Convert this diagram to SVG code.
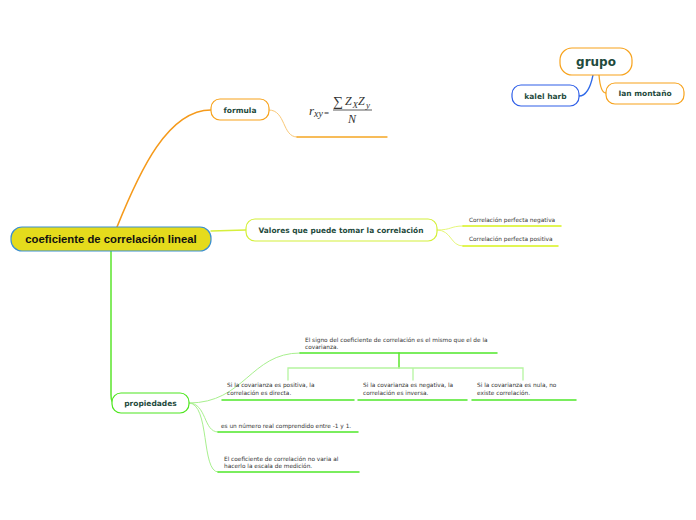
<svg xmlns="http://www.w3.org/2000/svg" width="696" height="520" viewBox="0 0 696 520">
<style>
.nt{font-family:"DejaVu Sans",Verdana,sans-serif;font-weight:bold;fill:#1f4b3d;text-anchor:middle}
.sm{font-family:"DejaVu Sans",Verdana,sans-serif;font-size:5.8px;fill:#333}
.c{fill:none;stroke-linecap:round}
.fx{font-family:"Liberation Serif","Times New Roman",serif;font-style:italic;fill:#333}
</style>
<rect width="696" height="520" fill="#fff"/>
<g id="connectors">
<path class="c" d="M117,227 C140,170 168,110 211,110" stroke="#f59a1b" stroke-width="1.6"/>
<path class="c" d="M269,110 C286,110 282,137 297,137" stroke="#f9c877" stroke-width="1"/>
<path class="c" d="M297,137 L387,137" stroke="#f5a623" stroke-width="1.3"/>
<path class="c" d="M211,231 L246,230" stroke="#d6ef3c" stroke-width="1.3"/>
<path class="c" d="M437,230 C452,230 450,226 463,226" stroke="#e6f77a" stroke-width="1"/>
<path class="c" d="M437,230 C452,230 450,246 463,246" stroke="#e6f77a" stroke-width="1"/>
<path class="c" d="M463,226 L561,226 M463,246 L558,246" stroke="#d7f21c" stroke-width="1.5"/>
<path class="c" d="M111,251 L111,395 C111,401 112,403 115,403" stroke="#5be52c" stroke-width="1.5"/>
<path class="c" d="M189,403 C245,403 250,353 300,353" stroke="#a8f08e" stroke-width="1"/>
<path class="c" d="M189,403 C207,403 203,432 218,432" stroke="#a8f08e" stroke-width="1"/>
<path class="c" d="M189,403 C210,403 201,472 218,472" stroke="#a8f08e" stroke-width="1"/>
<path class="c" d="M300,353 L497,353" stroke="#4fe82a" stroke-width="1.5"/>
<path class="c" d="M218,432 L358,432 M218,472 L359,472" stroke="#4fe82a" stroke-width="1.5"/>
<path class="c" d="M399,353 L399,368" stroke="#5be52c" stroke-width="1.5"/>
<path class="c" d="M288,380 L288,368 L523,368 L523,380 M413,368 L413,380" stroke="#b5f5a0" stroke-width="1.3"/>
<path class="c" d="M222,400 L354,400 M358,400 L467,400 M472,400 L576,400" stroke="#4fe82a" stroke-width="1.5"/>
<path class="c" d="M593,75 C590,90 585,96 579,96" stroke="#2f6ae8" stroke-width="1.3"/>
<path class="c" d="M599,75 C600,88 602,93 606,93" stroke="#f5a623" stroke-width="1.3"/>
</g>
<g id="central">
<rect x="11" y="227" width="200" height="24" rx="11" fill="#e5db1c" stroke="#3a8fd1" stroke-width="1.2"/>
<text x="111" y="243" font-family="Liberation Sans,Arial,sans-serif" font-weight="bold" font-size="11.3" fill="#111" text-anchor="middle">coeficiente de correlación lineal</text>
</g>
<g id="formula">
<rect x="211" y="99" width="58" height="21" rx="9" fill="#fff" stroke="#f7a21b" stroke-width="1.2"/>
<text class="nt" x="240" y="113" font-size="7.5">formula</text>
</g>
<g id="formula-expr">
<text class="fx" x="309" y="115" font-size="13">r</text>
<text class="fx" x="314" y="117" font-size="10">xy</text>
<text x="324" y="116" font-family="Liberation Serif,serif" font-size="9" fill="#333">=</text>
<text x="333" y="106" font-family="Liberation Serif,serif" font-size="14" fill="#333">∑</text>
<text class="fx" x="345" y="105" font-size="12">Z</text>
<text class="fx" x="352.5" y="108" font-size="9">X</text>
<text class="fx" x="358" y="105" font-size="12">Z</text>
<text class="fx" x="366" y="108" font-size="9">y</text>
<line x1="333" y1="110" x2="372" y2="110" stroke="#333" stroke-width="0.8"/>
<text class="fx" x="352" y="123" font-size="12" text-anchor="middle">N</text>
</g>
<g id="valores">
<rect x="246" y="219" width="191" height="22" rx="9" fill="#fff" stroke="#d4f03a" stroke-width="1.2"/>
<text class="nt" x="341" y="233" font-size="7.5" textLength="165" lengthAdjust="spacingAndGlyphs">Valores que puede tomar la correlación</text>
</g>
<g id="negativa"><text class="sm" x="469" y="222">Correlación perfecta negativa</text></g>
<g id="positiva"><text class="sm" x="469" y="241">Correlación perfecta positiva</text></g>
<g id="propiedades">
<rect x="112" y="393" width="77" height="20" rx="9" fill="#fff" stroke="#4de61e" stroke-width="1.2"/>
<text class="nt" x="150.5" y="406" font-size="7.5">propiedades</text>
</g>
<g id="signo"><text class="sm"><tspan x="305" y="342">El signo del coeficiente de correlación es el mismo que el de la</tspan><tspan x="305" y="349">covarianza.</tspan></text></g>
<g id="positiva2"><text class="sm"><tspan x="227" y="387">Si la covarianza es positiva, la</tspan><tspan x="227" y="395">correlación es directa.</tspan></text></g>
<g id="negativa2"><text class="sm"><tspan x="363" y="387">Si la covarianza es negativa, la</tspan><tspan x="363" y="395">correlación es inversa.</tspan></text></g>
<g id="nula"><text class="sm"><tspan x="477" y="387">Si la covarianza es nula, no</tspan><tspan x="477" y="395">existe correlación.</tspan></text></g>
<g id="numero"><text class="sm" x="221" y="428">es un número real comprendido entre -1 y 1.</text></g>
<g id="escala"><text class="sm"><tspan x="224" y="461">El coeficiente de correlación no varia al</tspan><tspan x="224" y="468">hacerlo la escala de medición.</tspan></text></g>
<g id="grupo">
<rect x="560" y="48" width="72" height="27" rx="12" fill="#fff" stroke="#f7a21b" stroke-width="1.2"/>
<text class="nt" x="596" y="66" font-size="12">grupo</text>
</g>
<g id="kalel">
<rect x="512" y="85" width="67" height="21" rx="9" fill="#fff" stroke="#2f5fe8" stroke-width="1.2"/>
<text class="nt" x="545.5" y="99" font-size="7.5">kalel harb</text>
</g>
<g id="ian">
<rect x="606" y="83" width="78" height="21" rx="9" fill="#fff" stroke="#f7a21b" stroke-width="1.2"/>
<text class="nt" x="645" y="96" font-size="7.5">Ian montaño</text>
</g>
</svg>
